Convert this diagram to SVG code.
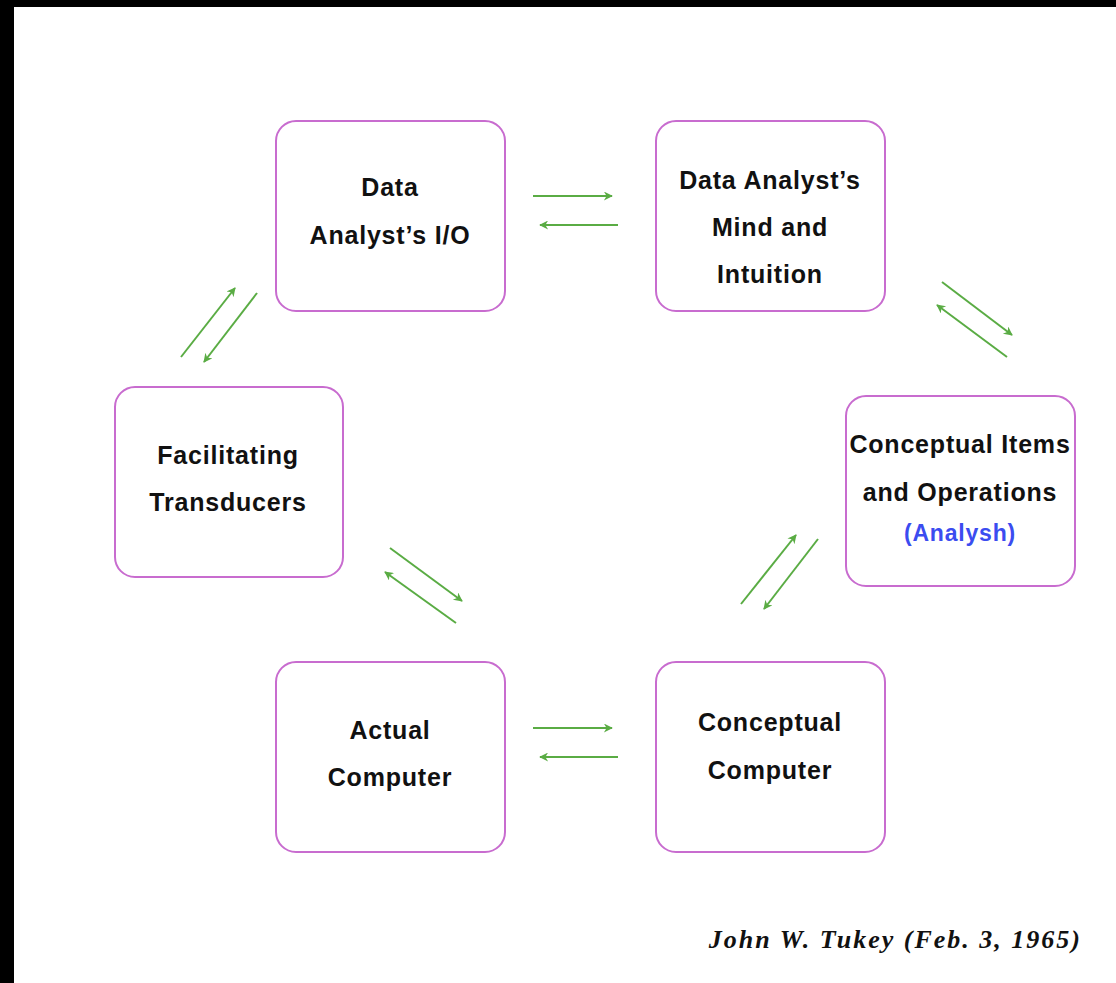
<svg xmlns="http://www.w3.org/2000/svg" width="1116" height="983" viewBox="0 0 1116 983">
<style>
.box{fill:#fff;stroke:#c86ccf;stroke-width:2}
.t{font-family:"Liberation Sans",Arial,sans-serif;font-weight:bold;font-size:25px;letter-spacing:0.8px;fill:#111;text-anchor:middle}
.a{stroke:#5aac44;stroke-width:2;fill:none;marker-end:url(#ah)}
</style>
<defs>
<marker id="ah" viewBox="0 0 10 10" refX="9" refY="5" markerWidth="12" markerHeight="9" markerUnits="userSpaceOnUse" orient="auto"><path d="M0,0 L10,5 L0,10 L3,5 z" fill="#5aac44"/></marker>
</defs>
<rect x="0" y="0" width="1116" height="983" fill="#fff"/>
<rect x="0" y="0" width="1116" height="7" fill="#000"/>
<rect x="0" y="0" width="14" height="983" fill="#000"/>
<g id="io"><rect class="box" x="276" y="121" width="229" height="190" rx="20"/><text class="t" x="390" y="196">Data</text><text class="t" x="390" y="244">Analyst’s I/O</text></g>
<g id="mind"><rect class="box" x="656" y="121" width="229" height="190" rx="20"/><text class="t" x="770" y="189">Data Analyst’s</text><text class="t" x="770" y="236">Mind and</text><text class="t" x="770" y="283">Intuition</text></g>
<g id="trans"><rect class="box" x="115" y="387" width="228" height="190" rx="20"/><text class="t" x="228" y="464">Facilitating</text><text class="t" x="228" y="511">Transducers</text></g>
<g id="items"><rect class="box" x="846" y="396" width="229" height="190" rx="20"/><text class="t" x="960" y="453">Conceptual Items</text><text class="t" x="960" y="501">and Operations</text><text class="t" x="960" y="541" style="fill:#3b4cf0;font-size:23px">(Analysh)</text></g>
<g id="actual"><rect class="box" x="276" y="662" width="229" height="190" rx="20"/><text class="t" x="390" y="739">Actual</text><text class="t" x="390" y="786">Computer</text></g>
<g id="ccomp"><rect class="box" x="656" y="662" width="229" height="190" rx="20"/><text class="t" x="770" y="731">Conceptual</text><text class="t" x="770" y="779">Computer</text></g>
<g id="connectors">
<line class="a" x1="533" y1="196" x2="612" y2="196"/>
<line class="a" x1="618" y1="225" x2="540" y2="225"/>
<line class="a" x1="533" y1="728" x2="612" y2="728"/>
<line class="a" x1="618" y1="757" x2="540" y2="757"/>
<line class="a" x1="181" y1="357" x2="235" y2="288"/>
<line class="a" x1="257" y1="293" x2="204" y2="362"/>
<line class="a" x1="942" y1="282" x2="1012" y2="335"/>
<line class="a" x1="1007" y1="357" x2="937" y2="305"/>
<line class="a" x1="390" y1="548" x2="462" y2="601"/>
<line class="a" x1="456" y1="623" x2="385" y2="572"/>
<line class="a" x1="741" y1="604" x2="796" y2="535"/>
<line class="a" x1="818" y1="539" x2="764" y2="609"/>
</g>
<text x="1082" y="948" style="font-family:'Liberation Serif','Times New Roman',serif;font-style:italic;font-weight:bold;font-size:26px;letter-spacing:2px;fill:#111;text-anchor:end">John W. Tukey (Feb. 3, 1965)</text>
</svg>
